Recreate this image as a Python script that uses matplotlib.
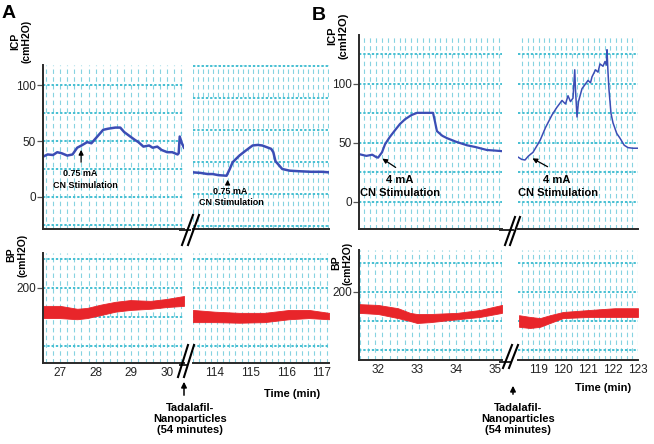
import numpy as np
import matplotlib
matplotlib.use('Agg')
import matplotlib.pyplot as plt
from matplotlib.lines import Line2D
from matplotlib.patches import FancyArrowPatch
from matplotlib.ticker import MultipleLocator, FixedLocator

plt.rcParams['font.family'] = ['Liberation Sans', 'DejaVu Sans']

# ---- panel A, ICP (cmH2O): before (27-30 min) and after nanoparticles (114-117 min)
a_icp_t1 = [26.52, 26.65, 26.8, 26.92, 27.05, 27.2, 27.35, 27.48, 27.6, 27.76, 27.88, 27.99,
            28.1, 28.21, 28.35, 28.55, 28.69, 28.8, 28.97, 29.1, 29.2, 29.34, 29.5, 29.6,
            29.73, 29.85, 30.01, 30.15, 30.3, 30.33, 30.36, 30.42, 30.48]
a_icp_v1 = [36, 38, 37.5, 40, 39, 37, 38, 44, 46, 49, 48, 52,
            56, 60, 61, 62, 62, 58, 54, 51, 49, 45, 46, 44,
            45, 42, 40, 40, 38, 39, 54, 48, 44]
a_icp_t2 = [113.39, 113.6, 113.8, 113.94, 114.1, 114.33, 114.42, 114.5, 114.69, 114.85, 115.06,
            115.2, 115.33, 115.58, 115.64, 115.7, 115.89, 116.1, 116.36, 116.7, 117.0, 117.2]
a_icp_v2 = [22, 21.5, 20.5, 20.5, 19.5, 19, 25, 31, 37, 41, 46,
            46.5, 46, 43, 40, 32, 25, 23.5, 23, 22.5, 22.5, 22]

# ---- panel A, BP (cmH2O) band edges
a_bp_t1 = [26.52, 27.0, 27.48, 27.76, 28.13, 28.55, 28.97, 29.54, 30.0, 30.48]
a_bp_lo1 = [148, 148, 146, 148, 153, 159, 162, 164, 167, 169]
a_bp_hi1 = [169, 169, 164, 165.5, 171, 176, 179, 177.6, 181, 186]
a_bp_t2 = [113.39, 114.0, 114.69, 115.39, 116.08, 116.64, 117.2]
a_bp_lo2 = [141, 141, 140, 141, 146, 148, 146]
a_bp_hi2 = [162, 159, 157, 157, 162, 162, 157]

# ---- panel B, ICP (cmH2O): before (32-35 min) and after nanoparticles (119-123 min)
b_icp_t1 = [31.51, 31.7, 31.85, 31.95, 32.0, 32.1, 32.18, 32.3, 32.44, 32.56, 32.69, 32.85,
            33.0, 33.2, 33.41, 33.46, 33.51, 33.65, 33.77, 34.0, 34.28, 34.5, 34.79, 35.0, 35.18]
b_icp_v1 = [40.5, 39, 40, 38, 37.5, 42, 49, 55, 61, 66, 70, 73.5,
            75.5, 75.5, 75.5, 68, 60, 56, 54, 51, 48, 46.5, 44, 43.5, 43]
b_icp_t2 = [118.2, 118.35, 118.48, 118.6, 118.68, 118.8, 119.08, 119.3, 119.56, 119.75, 119.96,
            120.1, 120.2, 120.3, 120.4, 120.47, 120.5, 120.56, 120.62, 120.76, 120.9, 121.0,
            121.1, 121.16, 121.3, 121.4, 121.48, 121.6, 121.68, 121.74, 121.76, 121.8, 121.84,
            121.92, 122.0, 122.15, 122.28, 122.45, 122.6, 122.8, 123.0]
b_icp_v2 = [38, 36, 35.5, 38.5, 40, 42, 52, 63, 73.7, 80, 86,
            83, 90, 85, 88, 112, 95, 72, 85, 96, 100, 103,
            101, 106, 112, 110, 117, 115, 119, 116, 129, 110, 95,
            75, 67, 58, 54, 48, 46, 45.5, 45.5]

# ---- panel B, BP (cmH2O) band edges
b_bp_t1 = [31.51, 32.0, 32.51, 32.82, 33.0, 33.33, 34.03, 34.62, 35.18]
b_bp_lo1 = [164, 162, 155, 150, 146.6, 148, 153, 157, 164]
b_bp_hi1 = [179, 177.6, 172, 164, 162, 162, 164, 169, 177.6]
b_bp_t2 = [118.24, 118.68, 119.08, 119.48, 120.0, 121.08, 122.08, 123.0]
b_bp_lo2 = [140, 138, 140, 146.6, 155, 157, 157, 157]
b_bp_hi2 = [160, 157, 155, 160, 165.5, 169, 172, 172]

a_ticks1 = [27, 28, 29, 30]
a_ticks2 = [114, 115, 116, 117]
b_ticks1 = [32, 33, 34, 35]
b_ticks2 = [119, 120, 121, 122, 123]

W, H = 654, 444
BLUE = '#3b4db5'
RED = '#e8252a'
PAPER_H = '#45bfd2'
PAPER_V = '#86d3e1'
AXC = '#2a2a2a'

fig = plt.figure(figsize=(W / 100, H / 100), dpi=100)


def box(x0, y0, x1, y1):
    return [x0 / W, 1 - y1 / H, (x1 - x0) / W, (y1 - y0) / H]


def fpt(x, y):
    return x / W, 1 - y / H


def make_ax(rect, xlim, ylim, xstep, ygrid, left):
    ax = fig.add_axes(box(*rect))
    ax.set_xlim(*xlim)
    ax.set_ylim(*ylim)
    ax.patch.set_alpha(0)
    ax.xaxis.remove_overlapping_locs = False
    ax.yaxis.remove_overlapping_locs = False
    ax.xaxis.set_minor_locator(MultipleLocator(xstep))
    ax.yaxis.set_minor_locator(FixedLocator(ygrid))
    ax.grid(which='minor', axis='x', color=PAPER_V, lw=0.8, ls=(0, (4, 3)))
    ax.grid(which='minor', axis='y', color=PAPER_H, lw=1.4, ls=(0, (1.2, 1.0)))
    ax.tick_params(which='minor', length=0)
    ax.set_axisbelow(True)
    for s in ['top', 'right']:
        ax.spines[s].set_visible(False)
    ax.spines['left'].set_visible(left)
    for s in ['left', 'bottom']:
        ax.spines[s].set_color(AXC)
        ax.spines[s].set_linewidth(1.4)
    ax.tick_params(axis='x', which='major', length=0, labelsize=8.5, pad=3, labelcolor='#222')
    if left:
        ax.tick_params(axis='y', which='major', length=4, width=0.9, color='#555',
                       labelsize=8.5, pad=1, labelcolor='#222')
    else:
        ax.tick_params(axis='y', which='major', left=False, labelleft=False)
    return ax


icp_grid = list(np.arange(-25, 130, 25))
bp_grid = [100, 150, 200, 250]
arrow = dict(arrowstyle='-|>', color='k', lw=0.9, mutation_scale=7)

# panel A
ax = make_ax((43, 65, 184, 229), (26.52, 30.48), (-28.6, 117.9), 0.2, icp_grid, True)
ax.set_yticks([0, 50, 100])
ax.set_xticks([])
ax.plot(a_icp_t1, a_icp_v1, color=BLUE, lw=1.8)
ax.annotate('', xy=(27.59, 44.6), xytext=(27.59, 28.6), arrowprops=arrow)
ax.text(27.56, 21.4, '0.75 mA', ha='center', va='center', fontsize=6.5, fontweight='bold')
ax.text(27.70, 10.7, 'CN Stimulation', ha='center', va='center', fontsize=6.5, fontweight='bold')

ax = make_ax((193, 65, 329, 229), (113.39, 117.2), (-28.6, 117.9), 0.14,
             list(np.arange(-26.0, 130, 28.6)), False)
ax.set_xticks([])
ax.plot(a_icp_t2, a_icp_v2, color=BLUE, lw=1.8)
ax.annotate('', xy=(114.36, 17.9), xytext=(114.36, 8.9), arrowprops=arrow)
ax.text(114.42, 4.5, '0.75 mA', ha='center', va='center', fontsize=6.5, fontweight='bold')
ax.text(114.47, -4.5, 'CN Stimulation', ha='center', va='center', fontsize=6.5, fontweight='bold')

ax = make_ax((43, 253, 184, 363), (26.52, 30.48), (70.7, 260), 0.2, bp_grid, True)
ax.set_yticks([200])
ax.set_xticks(a_ticks1)
ax.fill_between(a_bp_t1, a_bp_lo1, a_bp_hi1, color=RED, lw=0.6, edgecolor=RED)

ax = make_ax((193, 253, 329, 363), (113.39, 117.2), (70.7, 260), 0.17, bp_grid, False)
ax.set_xticks(a_ticks2)
ax.fill_between(a_bp_t2, a_bp_lo2, a_bp_hi2, color=RED, lw=0.6, edgecolor=RED)

# panel B
ax = make_ax((359, 35, 502, 229), (31.51, 35.18), (-23, 141.5), 0.15, icp_grid, True)
ax.set_yticks([0, 50, 100])
ax.set_xticks([])
ax.plot(b_icp_t1, b_icp_v1, color=BLUE, lw=1.6)
ax.annotate('', xy=(32.05, 38.0), xytext=(32.51, 27.9), arrowprops=arrow)
ax.text(32.56, 18.5, '4 mA', ha='center', va='center', fontsize=8, fontweight='bold')
ax.text(32.56, 7.5, 'CN Stimulation', ha='center', va='center', fontsize=8, fontweight='bold')

ax = make_ax((518, 35, 638, 229), (118.2, 123.0), (-23, 141.5), 0.22, icp_grid, False)
ax.set_xticks([])
ax.plot(b_icp_t2, b_icp_v2, color=BLUE, lw=1.1)
ax.annotate('', xy=(118.68, 38.0), xytext=(119.48, 28.7), arrowprops=arrow)
ax.text(119.76, 18.5, '4 mA', ha='center', va='center', fontsize=8, fontweight='bold')
ax.text(119.82, 7.5, 'CN Stimulation', ha='center', va='center', fontsize=8, fontweight='bold')

ax = make_ax((359, 250, 502, 360), (31.51, 35.18), (83, 272), 0.19, bp_grid, True)
ax.set_yticks([200])
ax.set_xticks(b_ticks1)
ax.fill_between(b_bp_t1, b_bp_lo1, b_bp_hi1, color=RED, lw=0.6, edgecolor=RED)

ax = make_ax((518, 250, 638, 360), (118.2, 123.0), (83, 272), 0.22, bp_grid, False)
ax.set_xticks(b_ticks2)
ax.fill_between(b_bp_t2, b_bp_lo2, b_bp_hi2, color=RED, lw=0.6, edgecolor=RED)


# axis breaks: a short tail of the left axis line, then two slashes
def brk(x0, y0, x1, y1, dx, yax, xa):
    fig.add_artist(Line2D([xa / W, (x0 + x1 + dx) / 2 / W], [1 - (yax + 1.5) / H] * 2,
                          color=AXC, lw=1.4))
    for d in (0, dx):
        fig.add_artist(Line2D([(x0 + d) / W, (x1 + d) / W], [1 - y0 / H, 1 - y1 / H],
                              color='k', lw=1.5))


brk(182, 245, 193, 215, 6, 229, 180)
brk(178, 377, 188, 345, 6, 363, 180)
brk(505, 245, 515, 217, 5, 229, 500)
brk(503, 368, 512, 345, 6, 360, 500)

# labels
fig.text(*fpt(9, 14), 'A', fontsize=14, fontweight='bold', ha='center', va='center')
fig.text(*fpt(319, 16), 'B', fontsize=14, fontweight='bold', ha='center', va='center')
lab = dict(rotation=90, ha='center', va='center', fontweight='bold', multialignment='center',
           linespacing=1.1)
fig.text(*fpt(21, 41), 'ICP\n(cmH2O)', fontsize=7.5, **lab)
fig.text(*fpt(17, 255), 'BP\n(cmH2O)', fontsize=7.5, **lab)
fig.text(*fpt(338, 36), 'ICP\n(cmH2O)', fontsize=8, **lab)
fig.text(*fpt(342, 263), 'BP\n(cmH2O)', fontsize=7.5, **lab)

fig.text(*fpt(292, 394), 'Time (min)', fontsize=8, fontweight='bold', ha='center', va='center')
fig.text(*fpt(603, 388), 'Time (min)', fontsize=8, fontweight='bold', ha='center', va='center')

for ax_x, tip, tail, tx in [(184, 379, 398, 190), (513, 383, 397, 518)]:
    fig.add_artist(FancyArrowPatch(fpt(ax_x, tail), fpt(ax_x, tip), transform=fig.transFigure,
                                   arrowstyle='-|>', mutation_scale=8, color='k', lw=1.1))
    fig.text(*fpt(tx, 419), 'Tadalafil-\nNanoparticles\n(54 minutes)', fontsize=8,
             fontweight='bold', ha='center', va='center', linespacing=1.15)

fig.savefig('out.png', dpi=100)
